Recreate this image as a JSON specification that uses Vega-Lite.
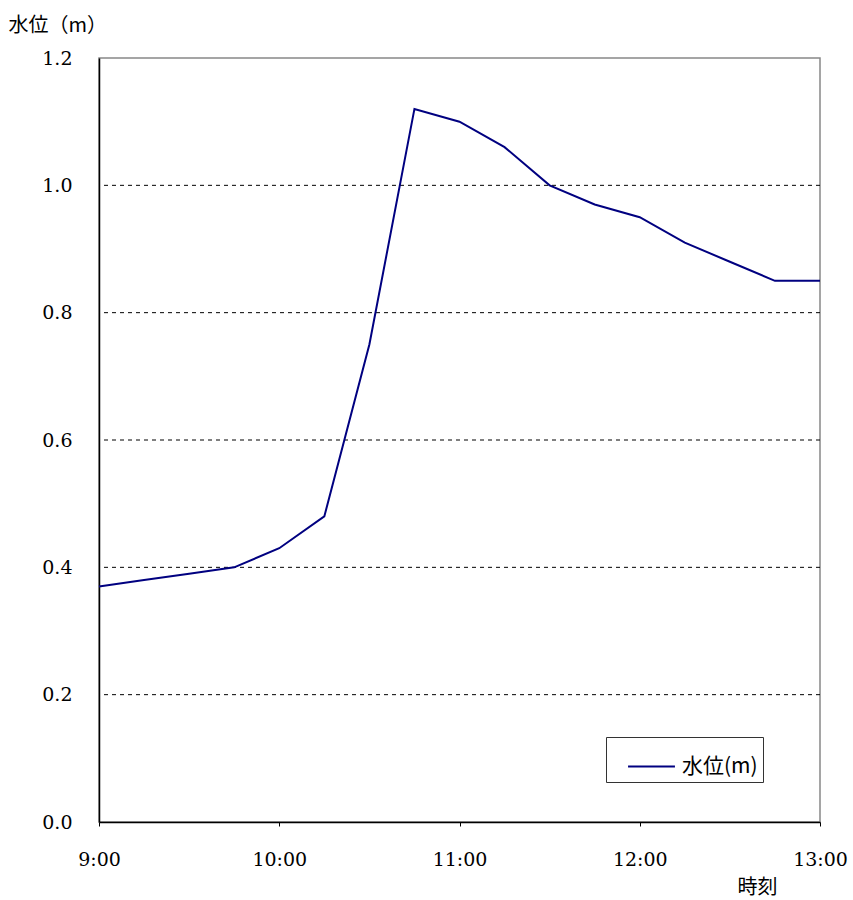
{
  "$schema": "https://vega.github.io/schema/vega-lite/v6.json",
  "autosize": "none",
  "width": 721,
  "height": 764,
  "padding": {"left": 99, "top": 58, "right": 33, "bottom": 78},
  "background": "white",
  "config": {
    "view": {"stroke": "#888888", "strokeWidth": 1.5}
  },
  "datasets": {
    "series": [
      {"時刻": "2020-01-01T09:00:00", "水位": 0.37, "系列": "水位(m)"},
      {"時刻": "2020-01-01T09:15:00", "水位": 0.38, "系列": "水位(m)"},
      {"時刻": "2020-01-01T09:30:00", "水位": 0.39, "系列": "水位(m)"},
      {"時刻": "2020-01-01T09:45:00", "水位": 0.40, "系列": "水位(m)"},
      {"時刻": "2020-01-01T10:00:00", "水位": 0.43, "系列": "水位(m)"},
      {"時刻": "2020-01-01T10:15:00", "水位": 0.48, "系列": "水位(m)"},
      {"時刻": "2020-01-01T10:30:00", "水位": 0.75, "系列": "水位(m)"},
      {"時刻": "2020-01-01T10:45:00", "水位": 1.12, "系列": "水位(m)"},
      {"時刻": "2020-01-01T11:00:00", "水位": 1.10, "系列": "水位(m)"},
      {"時刻": "2020-01-01T11:15:00", "水位": 1.06, "系列": "水位(m)"},
      {"時刻": "2020-01-01T11:30:00", "水位": 1.00, "系列": "水位(m)"},
      {"時刻": "2020-01-01T11:45:00", "水位": 0.97, "系列": "水位(m)"},
      {"時刻": "2020-01-01T12:00:00", "水位": 0.95, "系列": "水位(m)"},
      {"時刻": "2020-01-01T12:15:00", "水位": 0.91, "系列": "水位(m)"},
      {"時刻": "2020-01-01T12:30:00", "水位": 0.88, "系列": "水位(m)"},
      {"時刻": "2020-01-01T12:45:00", "水位": 0.85, "系列": "水位(m)"},
      {"時刻": "2020-01-01T13:00:00", "水位": 0.85, "系列": "水位(m)"}
    ],
    "grid": [
      {"y": 0.2}, {"y": 0.4}, {"y": 0.6}, {"y": 0.8}, {"y": 1.0}
    ]
  },
  "layer": [
    {
      "data": {"name": "grid"},
      "mark": {"type": "rule", "color": "black", "strokeWidth": 1, "strokeDash": [4, 4]},
      "encoding": {
        "y": {"field": "y", "type": "quantitative"}
      }
    },
    {
      "data": {"name": "series"},
      "mark": {"type": "line", "strokeWidth": 2},
      "encoding": {
        "x": {
          "field": "時刻",
          "type": "temporal",
          "axis": {
            "title": "時刻",
            "titleFont": "Noto Sans CJK JP",
            "titleFontWeight": "normal",
            "titleFontSize": 20,
            "titleColor": "black",
            "titleX": 658,
            "titleY": 65,
            "titleAlign": "center",
            "titleBaseline": "middle",
            "format": "%-H:%M",
            "tickCount": 4,
            "labelFont": "DejaVu Serif",
            "labelFontSize": 19,
            "labelColor": "black",
            "labelPadding": 24,
            "labelFlush": false,
            "labelOverlap": false,
            "tickSize": 4,
            "tickColor": "black",
            "domainColor": "black",
            "domainWidth": 1.5,
            "grid": false
          }
        },
        "y": {
          "field": "水位",
          "type": "quantitative",
          "scale": {"domain": [0, 1.2], "nice": false},
          "axis": {
            "title": "水位（m）",
            "titleFont": "Noto Sans CJK JP",
            "titleFontWeight": "normal",
            "titleFontSize": 20,
            "titleColor": "black",
            "titleAngle": 0,
            "titleX": -91,
            "titleY": -33,
            "titleAlign": "left",
            "titleBaseline": "middle",
            "values": [0, 0.2, 0.4, 0.6, 0.8, 1.0, 1.2],
            "format": ".1f",
            "labelFont": "DejaVu Serif",
            "labelFontSize": 19,
            "labelColor": "black",
            "labelPadding": 27,
            "tickSize": 0,
            "domainColor": "black",
            "domainWidth": 1.5,
            "grid": false
          }
        },
        "color": {
          "field": "系列",
          "type": "nominal",
          "scale": {"range": ["#000080"]},
          "legend": {
            "title": null,
            "orient": "none",
            "legendX": 507,
            "legendY": 679,
            "symbolType": "stroke",
            "symbolSize": 2200,
            "symbolStrokeWidth": 2,
            "symbolOffset": 16,
            "labelFont": "Noto Sans CJK JP",
            "labelFontSize": 21,
            "labelColor": "black",
            "labelOffset": 6,
            "strokeColor": "#333333",
            "fillColor": "white",
            "padding": 5,
            "cornerRadius": 0
          }
        }
      }
    }
  ]
}
